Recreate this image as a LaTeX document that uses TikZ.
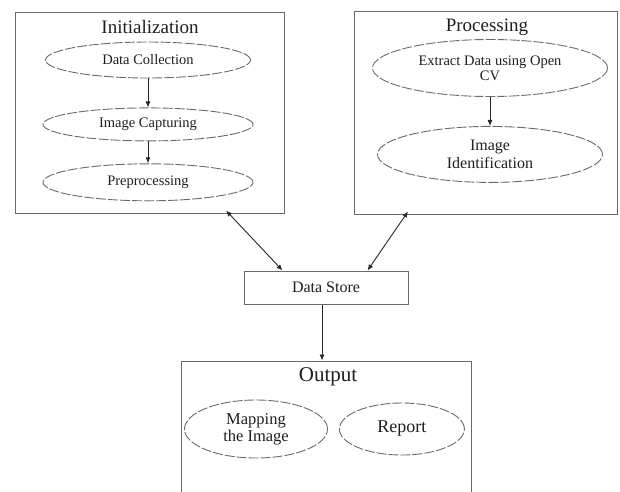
\documentclass[tikz,border=0pt]{standalone}
\usepackage{fontspec}
\setmainfont{Liberation Serif}
\usepackage{tikz}
\usetikzlibrary{arrows.meta,positioning,calc,shapes.geometric}
\definecolor{lineg}{HTML}{6A6A6A}
\definecolor{textg}{HTML}{1E1E1E}
\tikzset{
  flowarrow/.style={-{Latex[length=6pt,width=5pt]}, line width=0.9pt, draw=black!85},
  duoarrow/.style={{Latex[length=6pt,width=5pt]}-{Latex[length=6pt,width=5pt]}, line width=0.9pt, draw=black!85},
  groupbox/.style={draw=lineg, line width=1pt, inner sep=0pt},
  stage/.style={ellipse, draw=lineg, line width=0.9pt, dash pattern=on 10pt off 2pt,
    align=center, inner sep=0pt, text=textg},
  storebox/.style={draw=lineg, line width=1pt, inner sep=0pt, text=textg,
    minimum width=164pt, minimum height=33pt},
  grouptitle/.style={text=textg, inner sep=0pt}
}

\begin{document}
\begin{tikzpicture}[x=1pt,y=-1pt,node distance=29pt]
    \useasboundingbox (0,0) rectangle (620,491);
    \clip (0,0) rectangle (620,491);

    % initialization group
    \node[groupbox, minimum width=269pt, minimum height=201pt] (initbox) at (149.5,112.5) {};
    \node[grouptitle, font=\fontsize{19}{21}\selectfont] (inittitle) at (150,27) {Initialization};
    \node[stage, minimum width=205pt, minimum height=36pt, font=\fontsize{14.5}{16}\selectfont] (collect) at (148,60) {Data Collection};
    \node[stage, below=29pt of collect, minimum width=210pt, minimum height=33pt, font=\fontsize{14.5}{16}\selectfont] (capture) {Image Capturing};
    \node[stage, below=22pt of capture, minimum width=210pt, minimum height=37pt, font=\fontsize{14.5}{16}\selectfont] (preproc) {Preprocessing};

    % processing group
    \node[groupbox, minimum width=263pt, minimum height=203pt] (procbox) at (485.5,112.5) {};
    \node[grouptitle, font=\fontsize{19}{21}\selectfont] (proctitle) at (487,27) {Processing};
    \node[stage, minimum width=235pt, minimum height=57pt, font=\fontsize{14.5}{15}\selectfont] (extract) at (490,68) {Extract Data using Open\\CV};
    \node[stage, below=of extract, minimum width=225pt, minimum height=56pt, font=\fontsize{16}{18}\selectfont] (ident) {Image\\Identification};

    % data store
    \node[storebox, font=\fontsize{16}{18}\selectfont] (store) at (326,287.5) {Data Store};

    % output group
    \node[groupbox, minimum width=290pt, minimum height=150pt] (outbox) at (326,436) {};
    \node[grouptitle, font=\fontsize{21}{23}\selectfont] (outtitle) at (328,377) {Output};
    \node[stage, minimum width=143pt, minimum height=58pt, font=\fontsize{16.5}{17}\selectfont] (mapping) at (256,429) {Mapping\\the Image};
    \node[stage, right=11pt of mapping, minimum width=125pt, minimum height=52pt, font=\fontsize{18}{20}\selectfont] (report) {Report};

    \draw[flowarrow] (collect) -- (capture);
    \draw[flowarrow] (capture) -- (preproc);
    \draw[flowarrow] (extract) -- (ident);
    \draw[duoarrow] ([xshift=76.5pt,yshift=3pt]initbox.south) -- ([xshift=39pt]store.north west);
    \draw[duoarrow] ([xshift=-77.5pt,yshift=3pt]procbox.south) -- ([xshift=-41pt]store.north east);
    \draw[flowarrow] ([xshift=-4pt]store.south) -- ([xshift=-4pt]store.south |- outbox.north);
\end{tikzpicture}
\end{document}
